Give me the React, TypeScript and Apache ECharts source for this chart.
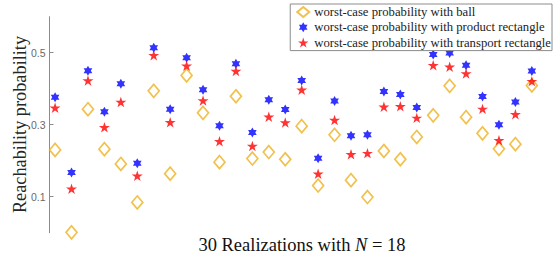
import React, { useEffect, useRef } from "react";
import * as echarts from "echarts";

const realizations = Array.from({ length: 30 }, (_, i) => i + 1);
const ballValues = [0.230, 0.001, 0.343, 0.232, 0.191, 0.084, 0.394, 0.164, 0.437, 0.333, 0.196, 0.379, 0.206, 0.224, 0.204, 0.296, 0.131, 0.272, 0.146, 0.099, 0.227, 0.204, 0.266, 0.326, 0.408, 0.321, 0.276, 0.233, 0.246, 0.409];
const productValues = [0.376, 0.167, 0.450, 0.336, 0.414, 0.193, 0.514, 0.343, 0.486, 0.397, 0.297, 0.469, 0.278, 0.369, 0.342, 0.423, 0.207, 0.366, 0.269, 0.272, 0.392, 0.384, 0.348, 0.495, 0.499, 0.465, 0.378, 0.300, 0.363, 0.449];
const transportValues = [0.347, 0.122, 0.423, 0.293, 0.363, 0.158, 0.493, 0.307, 0.464, 0.367, 0.254, 0.449, 0.241, 0.322, 0.306, 0.397, 0.164, 0.313, 0.218, 0.221, 0.350, 0.351, 0.319, 0.465, 0.461, 0.442, 0.344, 0.257, 0.329, 0.421];
const yTickLabels = [0.1, 0.3, 0.5];
const seriesNames = [
  "worst-case probability with ball",
  "worst-case probability with product rectangle",
  "worst-case probability with transport rectangle",
];

const HEXAGRAM =
  "path://M50,0L64.43,25L93.3,25L78.87,50L93.3,75L64.43,75L50,100L35.57,75L6.7,75L21.13,50L6.7,25L35.57,25Z";
const PENTAGRAM =
  "path://M50,0L61.23,34.55L97.55,34.55L68.17,55.9L79.39,90.45L50,69.1L20.61,90.45L31.83,55.9L2.45,34.55L38.77,34.55Z";

const SERIF = "Liberation Serif";

export default function App() {
  const ref = useRef<HTMLDivElement>(null);
  useEffect(() => {
    if (!ref.current) return;
    const chart = echarts.init(ref.current, null, { renderer: "svg" });
    const pts = (vals: number[]) => realizations.map((x, i) => [x, vals[i]]);
    chart.setOption({
      animation: false,
      backgroundColor: "#fff",
      grid: { left: 49.5, top: 16.7, height: 216, right: 2.5, containLabel: false },
      xAxis: {
        type: "value",
        min: 0.66,
        max: 31.5,
        axisLine: { show: false },
        axisTick: { show: false },
        axisLabel: { show: false },
        splitLine: { show: false },
      },
      yAxis: {
        type: "value",
        min: 0,
        max: 0.6,
        interval: 0.1,
        axisLine: { show: true, lineStyle: { color: "#8c8c8c", width: 1 } },
        axisTick: { show: true, inside: true, length: 4, customValues: yTickLabels, lineStyle: { color: "#8c8c8c" } },
        axisLabel: {
          show: true,
          customValues: yTickLabels,
          formatter: (v: number) => v.toFixed(1),
          color: "#6a6a6a",
          fontFamily: "Liberation Sans",
          fontSize: 10.5,
          margin: 4,
        },
        splitLine: { show: false },
      },
      legend: {
        orient: "vertical",
        right: 7,
        top: 4,
        backgroundColor: "#fff",
        borderColor: "#8c8c8c",
        borderWidth: 1,
        borderRadius: 0,
        padding: [1.5, 1, 1.5, 6],
        itemGap: 2.3,
        itemWidth: 12,
        itemHeight: 10,
        data: seriesNames,
        textStyle: { fontFamily: SERIF, fontSize: 12.7, lineHeight: 12, color: "#222", padding: [0, 0, 0, 0] },
      },
      series: [
        {
          name: seriesNames[0],
          type: "scatter",
          data: pts(ballValues),
          symbol: "diamond",
          symbolSize: [11, 13],
          itemStyle: { color: "rgba(0,0,0,0)", borderColor: "#EDB120", borderWidth: 1.7 },
        },
        {
          name: seriesNames[1],
          type: "scatter",
          data: pts(productValues),
          symbol: HEXAGRAM,
          symbolKeepAspect: true,
          symbolSize: 10,
          itemStyle: { color: "#0000FF" },
        },
        {
          name: seriesNames[2],
          type: "scatter",
          data: pts(transportValues),
          symbol: PENTAGRAM,
          symbolKeepAspect: true,
          symbolSize: 11,
          itemStyle: { color: "#FF0000" },
        },
      ],
      graphic: [
        {
          type: "text",
          x: 20,
          y: 124.5,
          rotation: Math.PI / 2,
          style: {
            text: "Reachability probability",
            fontFamily: SERIF,
            fontSize: 18.3,
            align: "center",
            verticalAlign: "middle",
            fill: "#262626",
          },
        },
        {
          type: "text",
          x: 302,
          y: 244.5,
          style: {
            text: "{a|30 Realizations with }{i|N}{a| = 18}",
            fontFamily: SERIF,
            fontSize: 18.5,
            align: "center",
            verticalAlign: "middle",
            fill: "#111",
            rich: {
              a: { fontFamily: SERIF, fontSize: 18.5, fill: "#111" },
              i: { fontFamily: SERIF, fontSize: 18.5, fontStyle: "italic", fill: "#111" },
            },
          },
        },
      ],
    });
    return () => chart.dispose();
  }, []);
  return <div ref={ref} style={{ width: 559, height: 259, position: "absolute", left: 0, top: 0 }} />;
}
